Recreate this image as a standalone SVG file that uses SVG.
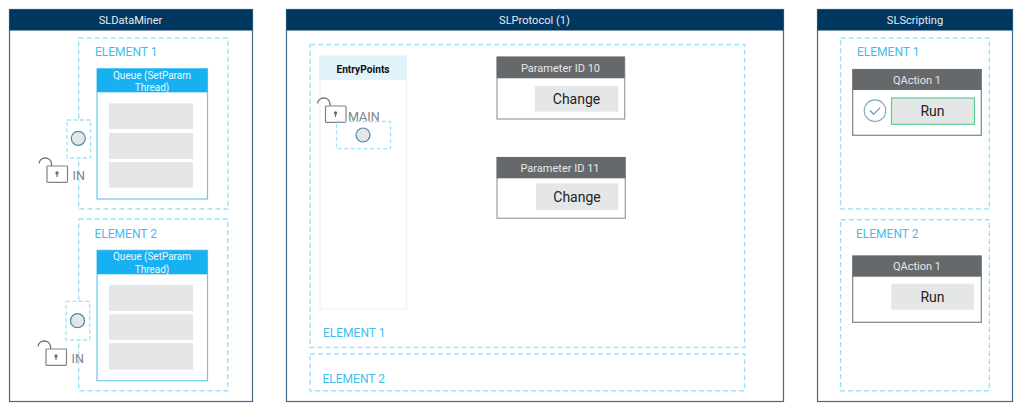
<svg xmlns="http://www.w3.org/2000/svg" width="1024" height="413" viewBox="0 0 1024 413">
<style>
text{font-family:Roboto,"Open Sans","Liberation Sans",sans-serif}
.panel{fill:#fff;stroke:#3f6c8c;stroke-width:1.2}
.phead{fill:#00375f}
.ptitle{fill:#e6edf2;font-size:11.1px;text-anchor:middle}
.dash{fill:none;stroke:#a0e2f9;stroke-width:1.4;stroke-dasharray:5 3}
.dashw{fill:#fff;stroke:#a0e2f9;stroke-width:1.3;stroke-dasharray:4 2.5}
.el{fill:#3fbdee;font-size:12px}
.queue{fill:#fff;stroke:#6cc8f2;stroke-width:1.2}
.qhead{fill:#17b1f2}
.qtitle{fill:#eef9ff;font-size:10px;text-anchor:middle}
.row{fill:#e5e6e7}
.dot{fill:#e5e6e7;stroke:#4f86a8;stroke-width:1.2}
.lock{fill:#fff;stroke:#808284;stroke-width:1.2}
.shackle{fill:none;stroke:#6d6f71;stroke-width:1.3}
.key{fill:#6d6f71}
.lbl{fill:#808284;font-size:12.6px}
.card{fill:#fff;stroke:#9a9c9e;stroke-width:1.2}
.chead{fill:#66696c}
.ctitle{fill:#e6e7e8;font-size:11px;text-anchor:middle}
.btn{fill:#e5e6e7}
.btxt{fill:#222;font-size:14px;text-anchor:middle}
</style>
<defs>
<g id="lockicon">
<path class="shackle" d="M-8 -2.5A6.3 6.3 0 0 1 4.5 -2.5V0"/>
<rect class="lock" x="0" y="0" width="20.5" height="16.3" rx="0.8"/>
<circle class="key" cx="10" cy="7" r="1.7"/>
<rect class="key" x="9.4" y="7" width="1.2" height="4"/>
</g>
</defs>
<g id="connectors"/>
<g id="sldataminer">
<rect class="panel" x="9.5" y="9.5" width="243" height="392"/>
<rect class="phead" x="9.5" y="9.5" width="243" height="21"/>
<text class="ptitle" x="130.5" y="24">SLDataMiner</text>
</g>
<g id="sldm-element1">
<rect class="dash" x="78.7" y="38" width="149.3" height="171"/>
<text class="el" x="95" y="56">ELEMENT 1</text>
<rect class="queue" x="97" y="68.7" width="110.5" height="130.3"/>
<rect class="qhead" x="97" y="68.7" width="110.5" height="23.6"/>
<text class="qtitle" x="152" y="78.5">Queue (SetParam</text>
<text class="qtitle" x="152" y="90.5">Thread)</text>
<rect class="row" x="109" y="103.3" width="84" height="25.7"/>
<rect class="row" x="109" y="132.7" width="84" height="26.3"/>
<rect class="row" x="109" y="162" width="84" height="25.7"/>
<rect class="dashw" x="67" y="120" width="23.5" height="38"/>
<circle class="dot" cx="78.3" cy="138.3" r="7"/>
<use href="#lockicon" x="47" y="166"/>
<text class="lbl" x="72.5" y="180">IN</text>
</g>
<g id="sldm-element2">
<rect class="dash" x="78.7" y="219" width="149" height="171.7"/>
<text class="el" x="94.5" y="238">ELEMENT 2</text>
<rect class="queue" x="97" y="250.3" width="110.5" height="130.4"/>
<rect class="qhead" x="97" y="250.3" width="110.5" height="24"/>
<text class="qtitle" x="152" y="260">Queue (SetParam</text>
<text class="qtitle" x="152" y="272.5">Thread)</text>
<rect class="row" x="109" y="285" width="84" height="26"/>
<rect class="row" x="109" y="314.3" width="84" height="25.7"/>
<rect class="row" x="109" y="343" width="84" height="26.7"/>
<rect class="dashw" x="66" y="301.3" width="23.7" height="38.7"/>
<circle class="dot" cx="77.5" cy="320.7" r="7"/>
<use href="#lockicon" x="46" y="349"/>
<text class="lbl" x="71.5" y="362.5">IN</text>
</g>
<g id="slprotocol">
<rect class="panel" x="286.5" y="9.5" width="497" height="392"/>
<rect class="phead" x="286.5" y="9.5" width="497" height="21"/>
<text class="ptitle" x="534.5" y="24">SLProtocol (1)</text>
</g>
<g id="slp-element1">
<rect class="dash" x="310" y="44.5" width="434.7" height="303"/>
<text class="el" x="323" y="337">ELEMENT 1</text>
</g>
<g id="slp-element2">
<rect class="dash" x="310" y="354" width="434.7" height="36.7"/>
<text class="el" x="322.5" y="382.5">ELEMENT 2</text>
</g>
<g id="entrypoints">
<rect x="320" y="56" width="86.5" height="253" fill="#fff" stroke="#e6f5fc" stroke-width="1.2"/>
<rect x="319" y="56" width="88" height="24" fill="#e1f3fb"/>
<text x="363" y="72.5" font-size="10.2" font-weight="700" fill="#111" text-anchor="middle">EntryPoints</text>
<use href="#lockicon" x="325.5" y="106"/>
<text class="lbl" x="348" y="120.5">MAIN</text>
<rect class="dashw" x="336.5" y="121.5" width="54" height="27.2" fill-opacity="0"/>
<circle class="dot" cx="363" cy="135" r="7"/>
</g>
<g id="param10">
<rect class="card" x="497" y="57" width="127.7" height="62"/>
<rect class="chead" x="496.7" y="56.7" width="128" height="21.6"/>
<text class="ctitle" x="560.5" y="72">Parameter ID 10</text>
<rect class="btn" x="535" y="86" width="83.3" height="25.7"/>
<text class="btxt" x="576.5" y="104">Change</text>
</g>
<g id="param11">
<rect class="card" x="497" y="157.5" width="128.3" height="60.8"/>
<rect class="chead" x="496.7" y="157" width="128.8" height="21.3"/>
<text class="ctitle" x="560" y="171.5">Parameter ID 11</text>
<rect class="btn" x="536" y="183.3" width="82.3" height="26.7"/>
<text class="btxt" x="577" y="202">Change</text>
</g>
<g id="slscripting">
<rect class="panel" x="817.5" y="9.5" width="195" height="392"/>
<rect class="phead" x="817.5" y="9.5" width="195" height="21"/>
<text class="ptitle" x="915" y="24">SLScripting</text>
</g>
<g id="sls-element1">
<rect class="dash" x="840.7" y="38" width="148.6" height="171"/>
<text class="el" x="857" y="56">ELEMENT 1</text>
<rect class="card" x="852.7" y="69.5" width="128.6" height="65.8" style="stroke:#808284"/>
<rect class="chead" x="852.7" y="69.3" width="128.6" height="20.7"/>
<text class="ctitle" x="917" y="84">QAction 1</text>
<circle cx="875" cy="110.7" r="10.8" fill="#fff" stroke="#7fa8c4" stroke-width="1.1"/>
<path d="M870 110.5l3.7 3.7 6.5-6.5" fill="none" stroke="#5f93b5" stroke-width="1.1"/>
<rect x="891.5" y="98" width="83" height="26.3" fill="#e5e6e7" stroke="#5ecb94" stroke-width="1.2"/>
<text class="btxt" x="932.5" y="115.5">Run</text>
</g>
<g id="sls-element2">
<rect class="dash" x="840.7" y="219.7" width="148.6" height="171"/>
<text class="el" x="856" y="238">ELEMENT 2</text>
<rect class="card" x="852.7" y="256" width="128.6" height="66.3" style="stroke:#808284"/>
<rect class="chead" x="852.7" y="255.7" width="128.6" height="21"/>
<text class="ctitle" x="917" y="270">QAction 1</text>
<rect class="btn" x="891.3" y="283.7" width="82.7" height="26"/>
<text class="btxt" x="932.5" y="301.5">Run</text>
</g>
</svg>
